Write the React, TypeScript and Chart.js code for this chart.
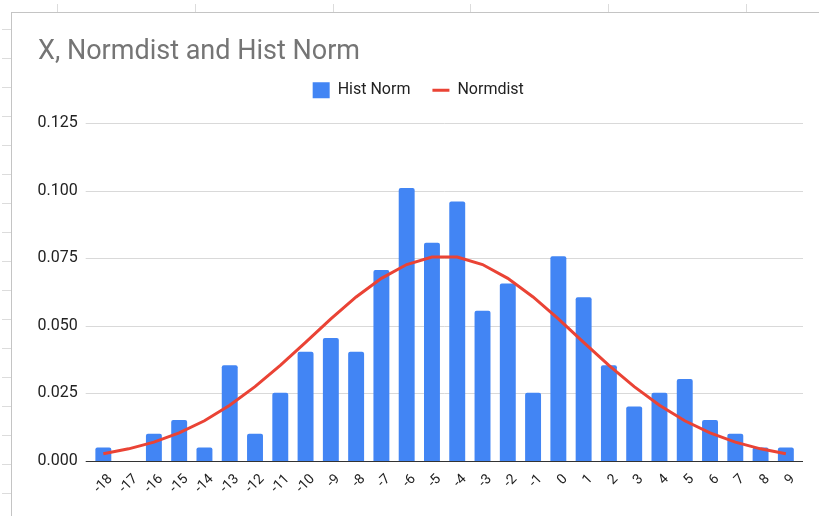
import React, { useEffect, useRef } from "react";
import { Chart, registerables } from "chart.js";

Chart.register(...registerables);

const CATEGORIES = [
  "-18", "-17", "-16", "-15", "-14", "-13", "-12", "-11", "-10", "-9", "-8", "-7", "-6", "-5",
  "-4", "-3", "-2", "-1", "0", "1", "2", "3", "4", "5", "6", "7", "8", "9",
];

const HIST_NORM = [
  0.005, 0, 0.0101, 0.0152, 0.005, 0.0354, 0.0101, 0.0253, 0.0404, 0.0455, 0.0404, 0.0707, 0.101, 0.0808,
  0.096, 0.0556, 0.0657, 0.0253, 0.0758, 0.0606, 0.0354, 0.0202, 0.0253, 0.0303, 0.0152, 0.0101, 0.005, 0.005,
];

const NORMDIST = [
  0.0027, 0.0045, 0.007, 0.0104, 0.0149, 0.0206, 0.0275, 0.0354, 0.0439, 0.0526, 0.0607, 0.0676, 0.0727, 0.0755,
  0.0755, 0.0727, 0.0676, 0.0607, 0.0526, 0.0439, 0.0354, 0.0275, 0.0206, 0.0149, 0.0104, 0.007, 0.0045, 0.0027,
];

const Y_TICKS = [0, 0.025, 0.05, 0.075, 0.1, 0.125];

const TITLE = "X, Normdist and Hist Norm";
const FONT = 'Roboto, "Liberation Sans", Arial, sans-serif';

const gridPlugin = {
  id: "sheetGrid",
  beforeDatasetsDraw(chart: any) {
    const { ctx, chartArea, scales } = chart;
    const y = scales.y;
    ctx.save();
    ctx.strokeStyle = "#d9d9d9";
    ctx.lineWidth = 1;
    for (const v of Y_TICKS) {
      if (v === 0) continue;
      const py = Math.round(y.getPixelForValue(v)) + 0.5;
      ctx.beginPath();
      ctx.moveTo(chartArea.left - 5, py);
      ctx.lineTo(chartArea.right + 4.5, py);
      ctx.stroke();
    }
    ctx.restore();
  },
  afterDatasetsDraw(chart: any) {
    const { ctx, chartArea, scales } = chart;
    const py = Math.round(scales.y.getPixelForValue(0)) + 0.5;
    ctx.save();
    ctx.strokeStyle = "#333333";
    ctx.lineWidth = 1.2;
    ctx.beginPath();
    ctx.moveTo(chartArea.left - 5, py);
    ctx.lineTo(chartArea.right + 4.5, py);
    ctx.stroke();
    ctx.restore();
  },
};

const legendGapPlugin = {
  id: "legendGap",
  beforeLayout(chart: any) {
    const lg = chart.legend;
    if (lg && !lg._gapPatched) {
      const fit = lg.fit;
      lg.fit = function () {
        fit.call(this);
        this.height += 15;
      };
      lg._gapPatched = true;
    }
  },
};

export default function App() {
  const canvasRef = useRef<HTMLCanvasElement | null>(null);

  useEffect(() => {
    document.body.style.margin = "0";
    const canvas = canvasRef.current;
    if (!canvas) return;
    const chart = new Chart(canvas, {
      data: {
        labels: CATEGORIES,
        datasets: [
          {
            type: "bar",
            label: "Hist Norm",
            data: HIST_NORM,
            backgroundColor: "#4285f4",
            borderWidth: 0,
            borderRadius: 2,
            barPercentage: 0.63,
            categoryPercentage: 1,
            pointStyle: "rect",
            order: 2,
          } as any,
          {
            type: "line",
            label: "Normdist",
            data: NORMDIST,
            borderColor: "#ea4335",
            backgroundColor: "#ea4335",
            borderWidth: 3,
            pointRadius: 0,
            pointHoverRadius: 0,
            pointStyle: "line",
            tension: 0,
            order: 1,
          } as any,
        ],
      },
      options: {
        responsive: false,
        animation: false,
        devicePixelRatio: 1,
        layout: { padding: { top: 0, left: 38, right: 20.5, bottom: 5 } },
        plugins: {
          title: {
            display: true,
            text: TITLE,
            align: "start",
            color: "#757575",
            font: { family: FONT, size: 27, weight: "normal", lineHeight: 0.6 },
            padding: { top: 44.0, bottom: 0 },
          },
          legend: {
            display: true,
            position: "top",
            align: "center",
            labels: {
              usePointStyle: true,
              pointStyleWidth: 17,
              boxHeight: 16,
              padding: 22,
              color: "#222222",
              font: { family: FONT, size: 16 },
              sort: (a: any, b: any) => a.datasetIndex - b.datasetIndex,
            },
          },
          tooltip: { enabled: false },
        },
        scales: {
          x: {
            type: "category",
            grid: { display: false, drawTicks: false },
            border: { display: false },
            ticks: {
              color: "#222222",
              font: { family: FONT, size: 14 },
              minRotation: 45,
              maxRotation: 45,
              autoSkip: false,
              padding: 10,
              labelOffset: 7,
            },
            afterFit: (s: any) => {
              s.height = 50;
            },
          },
          y: {
            type: "linear",
            min: 0,
            max: 0.125,
            grid: { display: false, drawTicks: false },
            border: { display: false },
            ticks: {
              color: "#222222",
              font: { family: FONT, size: 16 },
              padding: 13,
              callback: (v: any) => Number(v).toFixed(3),
            },
            afterBuildTicks: (s: any) => {
              s.ticks = Y_TICKS.map((v) => ({ value: v }));
            },
            afterFit: (s: any) => {
              s.width = 52.7;
            },
          },
        },
      } as any,
      plugins: [gridPlugin, legendGapPlugin],
    });
    return () => chart.destroy();
  }, []);

  const colTicks = [57, 195, 333, 470, 608, 746];
  const rowTicks: number[] = [];
  for (let y = 29; y < 516; y += 29) rowTicks.push(y);

  return (
    <div
      style={{
        position: "fixed",
        left: 0,
        top: 0,
        width: 819,
        height: 516,
        overflow: "hidden",
        background: "#ffffff",
      }}
    >
      {colTicks.map((x) => (
        <div
          key={"c" + x}
          style={{ position: "absolute", left: x, top: 4, width: 1, height: 8, background: "#dcdcdc" }}
        />
      ))}
      {rowTicks.map((y) => (
        <div
          key={"r" + y}
          style={{ position: "absolute", left: 2, top: y, width: 9, height: 1, background: "#dcdcdc" }}
        />
      ))}
      <div
        style={{
          position: "absolute",
          left: 11,
          top: 12,
          width: 900,
          height: 600,
          borderLeft: "1px solid #c4c4c4",
          borderTop: "1px solid #c4c4c4",
          background: "#ffffff",
        }}
      />
      <canvas
        ref={canvasRef}
        width={819}
        height={516}
        style={{ position: "absolute", left: 0, top: 0 }}
      />
    </div>
  );
}
